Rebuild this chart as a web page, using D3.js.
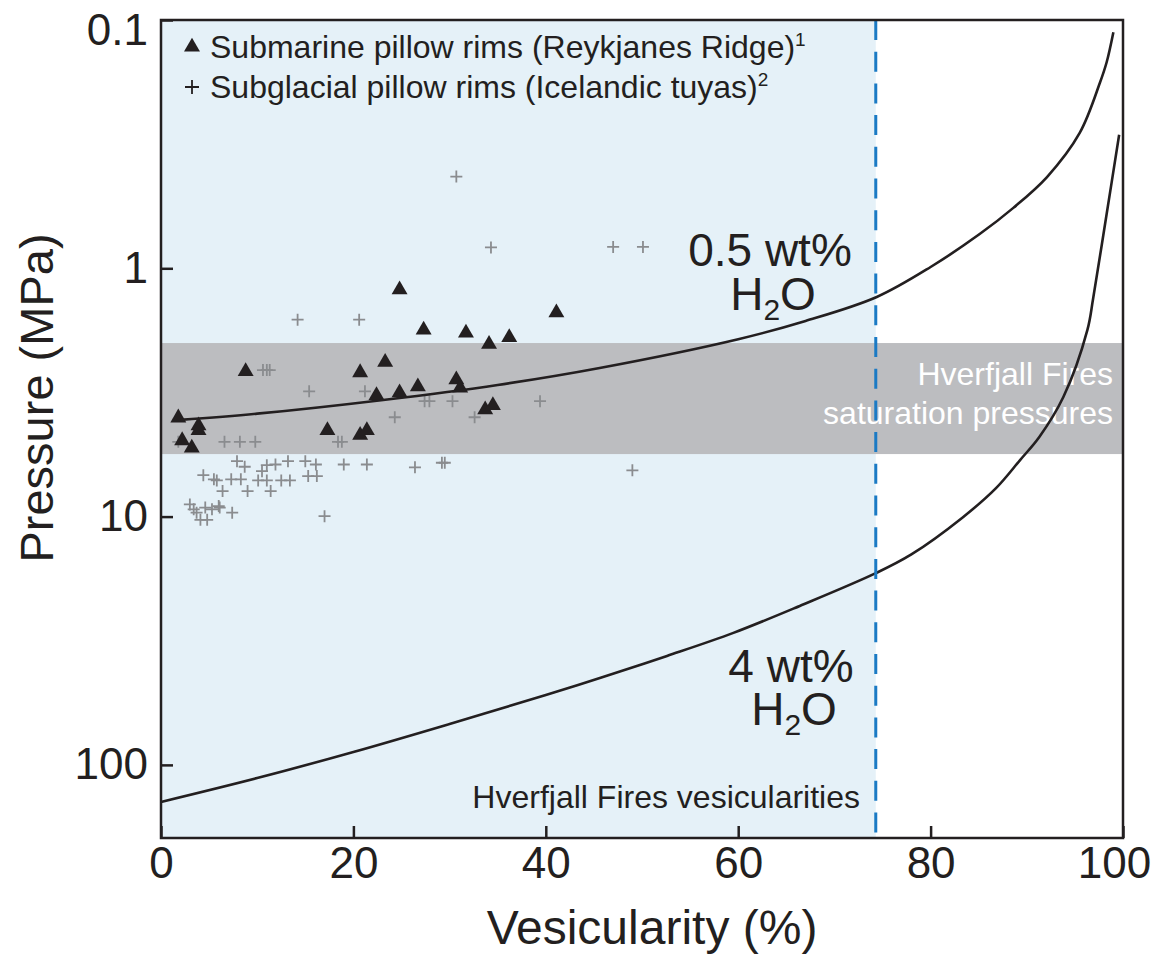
<!DOCTYPE html>
<html>
<head>
<meta charset="utf-8">
<script src="https://cdn.jsdelivr.net/npm/d3@7"></script>
<style>
  html, body { margin: 0; padding: 0; background: #ffffff; }
  svg { display: block; }
  text { font-family: "Liberation Sans", Arial, Helvetica, sans-serif; fill: #231f20; }
</style>
</head>
<body>
<svg id="chart" width="1158" height="958"></svg>
<script>
// ---------------- DATA ----------------
const xTicks = [0, 20, 40, 60, 80, 100];
const yTicks = [0.1, 1, 10, 100];

// Submarine pillow rims (Reykjanes Ridge): [vesicularity %, pressure MPa]
const submarine = [
  [1.8, 4.0], [3.9, 4.3], [3.9, 4.5], [2.2, 4.94], [3.2, 5.29], [8.8, 2.6],
  [17.3, 4.5], [20.7, 2.63], [20.7, 4.7], [21.4, 4.5], [23.3, 2.39], [22.4, 3.25],
  [24.8, 3.17], [24.8, 1.22], [27.3, 1.77], [26.7, 3.0], [30.7, 2.81], [31.1, 3.03],
  [31.7, 1.82], [33.7, 3.71], [34.5, 3.57], [34.1, 2.02], [36.2, 1.9], [41.1, 1.51]
];

// Subglacial pillow rims (Icelandic tuyas)
const subglacial = [
  [30.7, 0.427], [34.3, 0.824], [47.0, 0.82], [50.1, 0.82], [14.2, 1.61], [20.6, 1.61],
  [10.6, 2.57], [11.0, 2.57], [11.3, 2.57], [15.4, 3.13], [21.2, 3.13],
  [27.4, 3.43], [27.9, 3.43], [30.3, 3.43], [39.4, 3.43], [24.3, 3.98], [32.6, 3.98],
  [1.8, 5.0], [6.6, 5.0], [8.2, 5.0], [9.8, 5.0], [18.4, 5.0], [18.8, 5.0],
  [7.9, 5.98], [8.7, 6.3], [11.0, 6.21], [11.9, 6.17], [13.2, 5.98], [15.0, 5.98],
  [16.1, 6.17], [19.0, 6.17], [21.4, 6.17], [26.4, 6.33], [29.2, 6.07], [29.5, 6.07],
  [49.0, 6.51], [4.4, 6.81], [5.5, 7.08], [5.8, 7.15], [7.3, 7.08], [8.3, 7.08],
  [10.5, 6.56], [10.1, 7.15], [11.0, 7.15], [12.5, 7.15], [13.4, 7.15], [15.3, 6.87],
  [16.2, 6.87], [6.4, 7.89], [9.0, 7.89], [11.4, 7.89], [3.0, 8.93], [3.4, 9.35],
  [3.7, 9.64], [4.6, 9.2], [5.3, 9.35], [6.0, 9.07], [6.1, 9.2], [7.4, 9.64],
  [4.1, 10.3], [4.8, 10.3], [17.0, 9.96]
];

// Saturation curves: [vesicularity %, pressure MPa]
const curve05 = [
  [2, 4.08], [10, 3.85], [23.1, 3.39], [35, 2.95], [45.6, 2.52], [60, 1.93],
  [67, 1.63], [74.4, 1.305], [80, 0.988], [85.1, 0.728], [88.6, 0.571], [92.1, 0.429],
  [95.5, 0.285], [97.6, 0.179], [98.3, 0.148], [99, 0.112]
];
const curve4 = [
  [0, 141], [10, 113], [20, 88.7], [30, 68.4], [40, 52.3], [45.7, 44.6], [52.6, 36.4],
  [59.5, 29.4], [66.4, 22.9], [74.3, 16.9], [78, 14.2], [83.3, 10.1], [86.8, 7.68],
  [89.3, 5.92], [91.3, 4.78], [93.8, 3.3], [96.3, 1.77], [96.9, 1.32], [98.3, 0.604],
  [99.6, 0.29]
];

// Shaded ranges
const vesicularityRange = [0, 74.3];      // Hverfjall Fires vesicularities
const saturationRange = [2.0, 5.6];       // Hverfjall Fires saturation pressures (MPa)

// ---------------- LAYOUT ----------------
const plotL = 161, plotR = 1123, plotT = 20, plotB = 838;
const ink = "#231f20";

const svg = d3.select("#chart");
const x = d3.scaleLinear().domain([0, 100]).range([plotL, plotR]);
const y = d3.scaleLog().domain([0.1, 197]).range([plotT, plotB]);

// light blue vesicularity region
svg.append("rect")
  .attr("x", x(vesicularityRange[0]))
  .attr("y", plotT)
  .attr("width", x(vesicularityRange[1]) - x(vesicularityRange[0]))
  .attr("height", plotB - plotT)
  .attr("fill", "#e5f1f8");

// gray saturation band
svg.append("rect")
  .attr("x", x(0))
  .attr("y", y(saturationRange[0]))
  .attr("width", x(100) - x(0))
  .attr("height", y(saturationRange[1]) - y(saturationRange[0]))
  .attr("fill", "#bcbdc0");

// band label (white)
const bandLbl = svg.append("text")
  .attr("text-anchor", "end")
  .style("font-size", "32px")
  .style("fill", "#ffffff");
bandLbl.append("tspan").attr("x", 1113).attr("y", 385).text("Hverfjall Fires");
bandLbl.append("tspan").attr("x", 1113).attr("y", 424).text("saturation pressures");

// vesicularity label
svg.append("text")
  .attr("x", 860).attr("y", 808)
  .attr("text-anchor", "end")
  .style("font-size", "32px")
  .text("Hverfjall Fires vesicularities");

// subglacial crosses
const crossPath = "M-6,0H6M0,-6V6";
svg.append("g").selectAll("path")
  .data(subglacial)
  .join("path")
  .attr("transform", d => `translate(${x(d[0])},${y(d[1])})`)
  .attr("d", crossPath)
  .attr("stroke", "#8a8c8f")
  .attr("stroke-width", 1.8)
  .attr("fill", "none");

// submarine triangles
const tri = d3.symbol().type(d3.symbolTriangle).size(110);
svg.append("g").selectAll("path")
  .data(submarine)
  .join("path")
  .attr("transform", d => `translate(${x(d[0])},${y(d[1])})`)
  .attr("d", tri)
  .attr("fill", ink);

// curves
const line = d3.line()
  .x(d => x(d[0]))
  .y(d => y(d[1]))
  .curve(d3.curveCatmullRom.alpha(0.5));

[curve05, curve4].forEach(c => {
  svg.append("path")
    .attr("d", line(c))
    .attr("fill", "none")
    .attr("stroke", ink)
    .attr("stroke-width", 2.6);
});

// dashed vertical line
svg.append("line")
  .attr("x1", x(vesicularityRange[1])).attr("x2", x(vesicularityRange[1]))
  .attr("y1", plotT).attr("y2", plotB)
  .attr("stroke", "#1b7ac4")
  .attr("stroke-width", 3)
  .attr("stroke-dasharray", "20,11.7");

// curve labels (two lines in one text element)
function h2oLabel(cx, y1, y2, label) {
  const t = svg.append("text")
    .attr("text-anchor", "middle")
    .style("font-size", "46px");
  t.append("tspan").attr("x", cx).attr("y", y1).text(label);
  const t2 = t.append("tspan").attr("x", cx + 3).attr("y", y2);
  t2.append("tspan").text("H");
  t2.append("tspan").attr("dy", 10).style("font-size", "30px").text("2");
  t2.append("tspan").attr("dy", -10).text("O");
}
h2oLabel(770, 266, 310, "0.5 wt%");
h2oLabel(791, 682, 725, "4 wt%");

// legend
svg.append("path")
  .attr("transform", `translate(192,47)`)
  .attr("d", tri)
  .attr("fill", ink);
svg.append("path")
  .attr("transform", `translate(192,87)`)
  .attr("d", "M-7,0H7M0,-7V7")
  .attr("stroke", ink)
  .attr("stroke-width", 1.8);

const leg1 = svg.append("text").attr("x", 210).attr("y", 58).style("font-size", "32px");
leg1.append("tspan").text("Submarine pillow rims (Reykjanes Ridge)");
leg1.append("tspan").attr("dy", -12).style("font-size", "19px").text("1");
const leg2 = svg.append("text").attr("x", 210).attr("y", 98).style("font-size", "32px");
leg2.append("tspan").text("Subglacial pillow rims (Icelandic tuyas)");
leg2.append("tspan").attr("dy", -12).style("font-size", "19px").text("2");

// axes
const xAxis = d3.axisBottom(x).tickValues(xTicks).tickSize(-12).tickPadding(9)
  .tickFormat(d3.format("d"));
const gx = svg.append("g").attr("transform", `translate(0,${plotB})`).call(xAxis);
const yAxis = d3.axisLeft(y).tickValues(yTicks).tickSize(-12).tickPadding(13)
  .tickFormat(d => d < 1 ? "0.1" : d3.format("d")(d));
const gy = svg.append("g").attr("transform", `translate(${plotL},0)`).call(yAxis);

[gx, gy].forEach(g => {
  g.select(".domain").remove();
  g.selectAll(".tick line").attr("stroke", ink).attr("stroke-width", 2.5);
  g.selectAll(".tick text")
    .style("font-size", "44px")
    .style("font-family", '"Liberation Sans", Arial, sans-serif')
    .attr("fill", ink);
});
gy.selectAll(".tick text").filter(d => d === 0.1).attr("dy", "0.55em");
gx.selectAll(".tick text").filter(d => d === 100).attr("dx", -9);

// frame
svg.append("rect")
  .attr("x", plotL).attr("y", plotT)
  .attr("width", plotR - plotL).attr("height", plotB - plotT)
  .attr("fill", "none")
  .attr("stroke", ink)
  .attr("stroke-width", 2.5);

// axis titles
svg.append("text")
  .attr("x", 652).attr("y", 944)
  .attr("text-anchor", "middle")
  .style("font-size", "48px")
  .text("Vesicularity (%)");
svg.append("text")
  .attr("transform", "translate(53,398) rotate(-90)")
  .attr("text-anchor", "middle")
  .style("font-size", "47px")
  .text("Pressure (MPa)");
</script>
</body>
</html>
